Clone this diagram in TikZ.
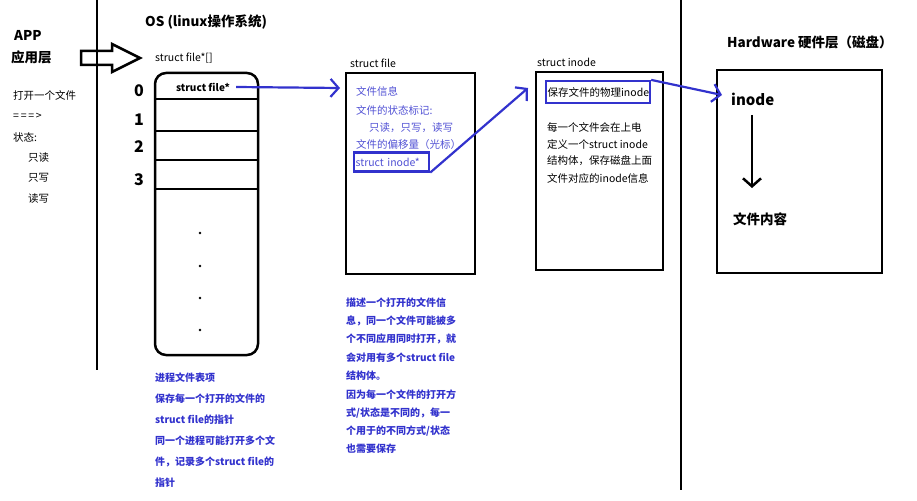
\documentclass[tikz,border=0pt]{standalone}
\usepackage{fontspec}
\setmainfont{Noto Sans CJK SC}
\usetikzlibrary{arrows.meta}
\definecolor{cblue}{RGB}{50,50,205}

\begin{document}
\begin{tikzpicture}[x=1pt,y=-1pt,
    txt/.style={anchor=west, inner sep=0pt, font=\fontsize{10.5}{12}\selectfont},
    btxt/.style={txt, text=cblue, font=\fontsize{10}{12}\selectfont\bfseries},
    ltxt/.style={txt, text=cblue!85},
    title/.style={anchor=west, inner sep=0pt, font=\fontsize{13.5}{15}\selectfont\bfseries},
    box/.style={draw, line width=2.5pt},
    blink/.style={draw=cblue, line width=2.2pt},
    barrow/.style={blink, -{Straight Barb[length=8pt,width=18pt,line width=2.2pt]}}
  ]
  \useasboundingbox (0,0) rectangle (917,500);
  % dividers
  \draw[line width=2.5pt] (97,0) -- (97,370);
  \draw[line width=2.5pt] (681,0) -- (681,490);
  % app side
  \node[title] (app) at (14,35) {APP};
  \node[title] (appl) at (11,57) {应用层};
  \draw[line width=2.5pt] (81,51) -- (112,51) -- (112,44) -- (140,58) -- (112,72) -- (112,65) -- (81,65) -- cycle;
  \node[txt] (s0) at (13,95) {打开一个文件};
  \node[txt] (s1) at (13,116) {=\,=\,=\,>};
  \node[txt] (s2) at (13,137) {状态:};
  \node[txt] (s3) at (28,158) {只读};
  \node[txt] (s4) at (28,178) {只写};
  \node[txt] (s5) at (28,199) {读写};
  % os
  \node[title] (os) at (145,22) {OS (linux操作系统)};
  \node[txt] (arrlbl) at (155,58) {struct file*[]};
  \draw[box, rounded corners=11pt] (155,73) rectangle (258,355);
  \foreach \yy in {99,131,160,189} \draw[line width=2.5pt] (155,\yy) -- (258,\yy);
  \node[inner sep=0pt, font=\fontsize{10}{12}\selectfont\bfseries] (fp) at (203,87) {struct file*};
  \foreach \n/\yy in {0/91,1/120,2/147,3/180}
    \node[inner sep=0pt, font=\fontsize{16}{18}\selectfont\bfseries] (idx\n) at (139,\yy) {\n};
  \foreach \yy in {233,266,298,330} \fill (200,\yy) circle (1.4pt);
  \foreach \t [count=\i] in {进程文件表项,保存每一个打开的文件的,struct file的指针,同一个进程可能打开多个文,件，记录多个struct file的,指针}
    \node[btxt] (p\i) at (155,356+21.2*\i) {\t};
  % struct file
  \node[txt] (sflbl) at (350,63) {struct file};
  \draw[box] (346,73) rectangle (475,274);
  \node[ltxt] (f1) at (356,91) {文件信息};
  \node[ltxt] (f2) at (356,110) {文件的状态标记:};
  \node[ltxt] (f3) at (369,128) {只读，只写，读写};
  \node[ltxt] (f4) at (356,145) {文件的偏移量（光标）};
  \node[ltxt, draw=cblue, line width=2.2pt, inner sep=1.5pt, minimum height=19pt, text width=72pt] (f5) at (353,162) {struct inode*};
  \foreach \t [count=\i] in {描述一个打开的文件信,息，同一个文件可能被多,个不同应用同时打开，就,会对用有多个struct file,结构体。,因为每一个文件的打开方,式/状态是不同的，每一,个用于的不同方式/状态,也需要保存}
    \node[btxt] (d\i) at (346,284.5+18.3*\i) {\t};
  % struct inode
  \node[txt] (silbl) at (537,62) {struct inode};
  \draw[box] (536,72) rectangle (663,270);
  \node[txt, draw=cblue, line width=2.2pt, inner sep=1.5pt, minimum height=22pt, text width=101pt] (i1) at (545,92) {保存文件的物理inode};
  \foreach \t [count=\i] in {每一个文件会在上电,定义一个struct inode,结构体，保存磁盘上面,文件对应的inode信息}
    \node[txt] (i\i x) at (547,110+17*\i) {\t};
  % hardware
  \node[title] (hw) at (727,42) {Hardware 硬件层（磁盘）};
  \draw[box] (717,70) rectangle (882,273);
  \node[title, font=\fontsize{15}{17}\selectfont\bfseries] (ino) at (731,99) {inode};
  \node[title] (cont) at (733,219) {文件内容};
  \coordinate (dtop) at (752,115);
  \coordinate (dbot) at (752,188);
  \draw[line width=2.5pt, -{Straight Barb[length=8pt,width=18pt,line width=2.5pt]}] (dtop) -- (dbot);
  % links
  \coordinate (sfin) at (340,88);
  \coordinate (siin) at (528,88);
  \coordinate (hwin) at (722,95);
  \draw[barrow] ([xshift=6pt]fp.east) -- (sfin);
  \draw[barrow] (f5.south east) -- (siin);
  \draw[barrow] (i1.north east) -- (hwin);
\end{tikzpicture}
\end{document}
